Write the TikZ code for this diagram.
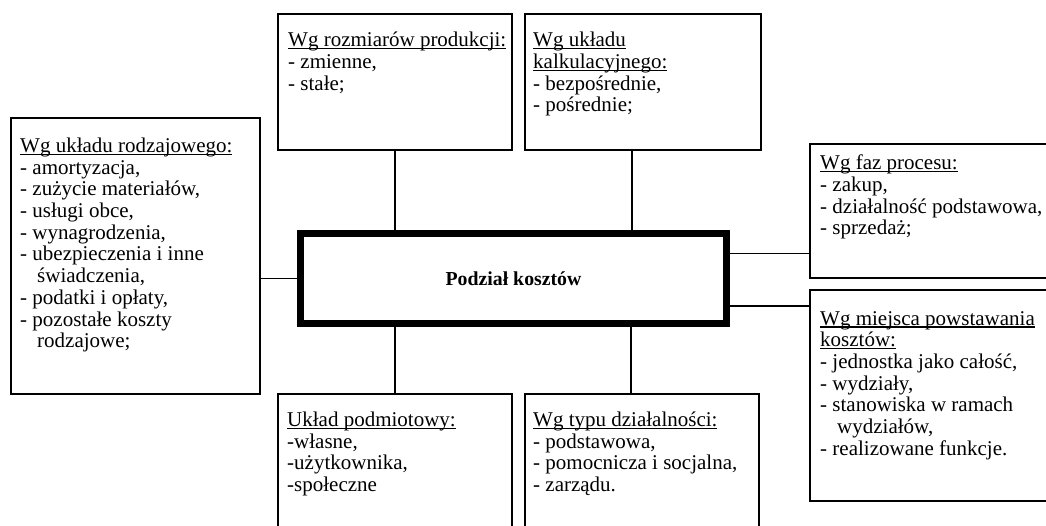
\documentclass[tikz,border=0pt]{standalone}
\usepackage{fontspec}
\setmainfont{Liberation Serif}
\newcommand\myul[1]{\setbox0=\hbox{#1}\rlap{\rule[-2.6pt]{\wd0}{1.4pt}}\box0}
\newcommand\firstln{\rule{0pt}{20pt}}
\begin{document}
\begin{tikzpicture}[x=1pt,y=-1pt,
  box/.style={draw, line width=1.6pt, anchor=north west, inner sep=0pt},
  txt/.style={anchor=north west, inner sep=0pt, align=left, font=\fontsize{21}{21.7}\selectfont},
  link/.style={line width=1.6pt}]
\useasboundingbox (0,0) rectangle (1046,525);
\clip (0,0) rectangle (1046,525);
% boxes
\node[box, minimum width=249pt, minimum height=276pt] (rod) at (10,117) {};
\node[box, minimum width=234pt, minimum height=136pt] (roz) at (277,13) {};
\node[box, minimum width=236pt, minimum height=136pt] (kal) at (524,13) {};
\node[box, minimum width=260pt, minimum height=134pt] (faz) at (809,143) {};
\node[box, minimum width=260pt, minimum height=211pt] (mie) at (809,289) {};
\node[box, minimum width=234pt, minimum height=160pt] (pod) at (277,393) {};
\node[box, minimum width=234pt, minimum height=160pt] (typ) at (524,393) {};
% central
\node[draw, line width=7pt, minimum width=426pt, minimum height=90pt, inner sep=0pt,
      font=\bfseries\fontsize{19.8}{22}\selectfont] (main) at (513.5,278.5) {Podział kosztów};
% texts
\node[txt] (trod) at (20,132.2) {\firstln\myul{Wg układu rodzajowego:}\\- amortyzacja,\\- zużycie materiałów,\\- usługi obce,\\- wynagrodzenia,\\- ubezpieczenia i inne\\\hspace*{17pt}świadczenia,\\- podatki i opłaty,\\- pozostałe koszty\\\hspace*{17pt}rodzajowe;};
\node[txt] (troz) at (288,26.5) {\firstln\myul{Wg rozmiarów produkcji:}\\- zmienne,\\- stałe;};
\node[txt] (tkal) at (533,26.5) {\firstln\myul{Wg układu}\\\myul{kalkulacyjnego:}\\- bezpośrednie,\\- pośrednie;};
\node[txt] (tfaz) at (820,149.5) {\firstln\myul{Wg faz procesu:}\\- zakup,\\- działalność podstawowa,\\- sprzedaż;};
\node[txt] (tmie) at (820,304.8) {\firstln\myul{Wg miejsca powstawania}\\\myul{kosztów:}\\- jednostka jako całość,\\- wydziały,\\- stanowiska w ramach\\\hspace*{17pt}wydziałów,\\- realizowane funkcje.};
\node[txt] (tpod) at (287,406.2) {\firstln\myul{Układ podmiotowy:}\\-własne,\\-użytkownika,\\-społeczne};
\node[txt] (ttyp) at (533,406.2) {\firstln\myul{Wg typu działalności:}\\- podstawowa,\\- pomocnicza i socjalna,\\- zarządu.};
% connectors
\draw[link] (roz.south) -- (roz.south |- main.north);
\draw[link] ([xshift=-11pt]kal.south) -- ([xshift=-11pt]kal.south |- main.north);
\draw[link] (pod.north) -- (pod.north |- main.south);
\draw[link] ([xshift=-11pt]typ.north) -- ([xshift=-11pt]typ.north |- main.south);
\draw[link] (main.west) -- (main.west -| rod.east);
\draw[link] ([yshift=25pt]main.east) -- ([yshift=25pt]main.east -| faz.west);
\draw[link] ([yshift=-27.5pt]main.east) -- ([yshift=-27.5pt]main.east -| mie.west);
\end{tikzpicture}
\end{document}
